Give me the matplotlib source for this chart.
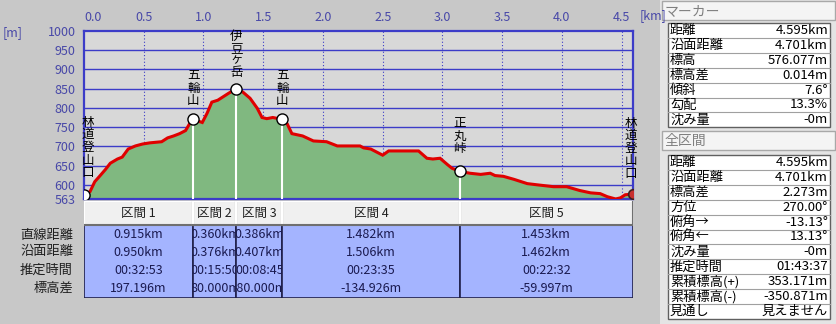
import numpy as np
import matplotlib
matplotlib.use('Agg')
import matplotlib.pyplot as plt
from matplotlib.patches import Rectangle
from matplotlib.transforms import Bbox, TransformedBbox

plt.rcParams['font.family'] = ['Noto Sans CJK JP', 'DejaVu Sans']

# elevation profile (km, m)
dist = [0.0, 0.05, 0.09, 0.13, 0.18, 0.22, 0.28, 0.32, 0.37, 0.43, 0.49, 0.55, 0.65, 0.70,
        0.75, 0.80, 0.85, 0.89, 0.915, 0.99, 1.03, 1.07, 1.12, 1.16, 1.21, 1.275, 1.33, 1.39,
        1.45, 1.49, 1.53, 1.58, 1.661, 1.70, 1.74, 1.83, 1.92, 2.03, 2.12, 2.31, 2.34, 2.40,
        2.45, 2.50, 2.55, 2.80, 2.87, 2.92, 2.98, 3.04, 3.08, 3.143, 3.23, 3.32, 3.40, 3.44,
        3.51, 3.60, 3.71, 3.79, 3.93, 4.04, 4.15, 4.24, 4.32, 4.38, 4.45, 4.49, 4.53, 4.595]
elev = [573, 582, 608, 622, 640, 656, 667, 672, 693, 701, 706, 709, 712, 722,
        727, 733, 741, 762, 770, 762, 786, 815, 820, 828, 838, 850, 841, 825,
        799, 775, 772, 775, 770, 759, 733, 727, 714, 712, 701, 701, 696, 693,
        685, 677, 688, 688, 669, 667, 669, 653, 643, 635, 630, 627, 630, 624,
        622, 614, 603, 600, 595, 595, 585, 579, 577, 569, 563, 566, 574, 576]

# waypoints
wp_names = ['林道登山口', '五輪山', '伊豆ヶ岳', '五輪山', '正丸峠', '林道登山口']
wp_km = [0.0, 0.915, 1.275, 1.661, 3.143, 4.595]
wp_elev = [573, 770, 850, 770, 635, 576]

# section table
sec_names = ['区間 1', '区間 2', '区間 3', '区間 4', '区間 5']
row_names = ['直線距離', '沿面距離', '推定時間', '標高差']
sec_straight = ['0.915km', '0.360km', '0.386km', '1.482km', '1.453km']
sec_surface = ['0.950km', '0.376km', '0.407km', '1.506km', '1.462km']
sec_time = ['00:32:53', '00:15:50', '00:08:45', '00:23:35', '00:22:32']
sec_height = ['197.196m', '80.000m', '-80.000m', '-134.926m', '-59.997m']

# side panels
marker_keys = ['距離', '沿面距離', '標高', '標高差', '傾斜', '勾配', '沈み量']
marker_vals = ['4.595km', '4.701km', '576.077m', '0.014m', '7.6°', '13.3%', '-0m']
total_keys = ['距離', '沿面距離', '標高差', '方位', '俯角→', '俯角←', '沈み量', '推定時間',
              '累積標高(+)', '累積標高(-)', '見通し']
total_vals = ['4.595km', '4.701km', '2.273m', '270.00°', '-13.13°', '13.13°', '-0m',
              '01:43:37', '353.171m', '-350.871m', '見えません']

xticks = [0.0, 0.5, 1.0, 1.5, 2.0, 2.5, 3.0, 3.5, 4.0, 4.5]
yticks = [563, 600, 650, 700, 750, 800, 850, 900, 950, 1000]

W, H = 836, 324
fig = plt.figure(figsize=(W / 100, H / 100), dpi=100, facecolor='#C8C8C8')

def px_axes(x0, y0, x1, y1):
    return fig.add_axes([x0 / W, 1 - y1 / H, (x1 - x0) / W, (y1 - y0) / H])

blue = '#3C3CC8'
tickc = '#4848A8'

# ---- profile
ax = px_axes(84, 31, 633, 199)
ax.set_facecolor('#D8D8D8')
ax.set_xlim(0, 4.595)
ax.set_ylim(563, 1000)
for y in yticks[1:-1]:
    ax.axhline(y, color=blue, lw=1.0, zorder=1)
for x in xticks[1:]:
    ax.axvline(x, color=blue, lw=0.8, ls=(0, (1, 2)), zorder=1)
ax.fill_between(dist, elev, 563, color='#80B880', zorder=2, lw=0)
ax.plot(dist, elev, color='#E00000', lw=2.2, zorder=3, solid_joinstyle='miter')
ax.vlines(wp_km[1:-1], 563, wp_elev[1:-1], color='white', lw=1.5, zorder=4)
ax.plot(wp_km[:-1], wp_elev[:-1], 'o', ms=8, mfc='white', mec='black', mew=1.0, zorder=5)
ax.plot(wp_km[-1:], wp_elev[-1:], 'o', ms=7, mfc='#C83030', mec='#402020', mew=1.2, zorder=5)
for spn in ax.spines.values():
    spn.set_color(blue)
    spn.set_linewidth(1.6)

ax.xaxis.tick_top()
ax.set_xticks(xticks)
ax.set_xticklabels(['%.1f' % v for v in xticks])
ax.set_yticks(yticks)
ax.set_yticklabels([str(v) for v in yticks])
ax.tick_params(length=0, colors=tickc, labelsize=9, pad=6)
ax.tick_params(axis='x', pad=5)
ax.get_xticklabels()[0].set_horizontalalignment('left')
fig.text(640 / W, 1 - 16 / H, '[km]', color=tickc, fontsize=9, va='center', ha='left')
fig.text(3 / W, 1 - 33 / H, '[m]', color=tickc, fontsize=9, va='center', ha='left')

# vertical waypoint names, stacked one character per line
lbl_dx = [4, 0, 0, 0, 0, -2]
lbl_dy = [16, 12, 10, 12, 16, 14]
for name, xk, ye, dx, dy in zip(wp_names, wp_km, wp_elev, lbl_dx, lbl_dy):
    off = dy
    for ch in reversed(name):
        step = 10.5 if ch == 'ヶ' else 12.6
        ax.annotate(ch, (xk, ye), xytext=(dx, off), textcoords='offset pixels',
                    ha='center', va='bottom', fontsize=9, color='black',
                    annotation_clip=False, zorder=6)
        off += step

# ---- section table
tax = px_axes(84, 201, 633, 298)
tax.set_xlim(0, 4.595)
tax.set_ylim(97, 0)
tax.axis('off')
rows = [sec_straight, sec_surface, sec_time, sec_height]
row_y = [34, 51, 69, 87]
for i, name in enumerate(sec_names):
    x0, x1 = wp_km[i], wp_km[i + 1]
    tax.add_patch(Rectangle((x0, 0), x1 - x0, 24, fc='#F0F0F0', ec='none'))
    tax.plot([x0, x0, x1], [24, 0, 0], color='white', lw=1.5)
    tax.plot([x0, x1, x1], [24, 24, 0], color='#707070', lw=1.5)
    tax.add_patch(Rectangle((x0, 24), x1 - x0, 73, fc='#A4B4FF', ec='#20204A', lw=1.2))
    clip = TransformedBbox(Bbox([[x0, 0], [x1, 97]]), tax.transData)
    t = tax.text((x0 + x1) / 2, 12, name, ha='center', va='center', fontsize=9, color='#202020')
    t.set_clip_box(clip)
    t.set_clip_on(True)
    for vals, yy in zip(rows, row_y):
        t = tax.text((x0 + x1) / 2, yy, vals[i], ha='center', va='center', fontsize=9,
                     color='#1A1A50')
        t.set_clip_box(clip)
        t.set_clip_on(True)
for name, yy in zip(row_names, [235, 252, 270, 288]):
    fig.text(73 / W, 1 - yy / H, name, ha='right', va='center', fontsize=9.5, color='#202020')

# ---- right panel (pixel coordinates)
pax = px_axes(660, 0, 836, 324)
pax.set_xlim(660, 836)
pax.set_ylim(324, 0)
pax.axis('off')
pax.add_patch(Rectangle((660, 0), 176, 324, fc='#E4E4E4', ec='none'))

def side_box(title, top, keys, vals, ttop):
    pax.add_patch(Rectangle((662, ttop), 173, 19, fc='#F4F4F4', ec='#A8A8A8', lw=1))
    pax.text(665, ttop + 10, title, ha='left', va='center', fontsize=10, color='#808080')
    rh = 14.9
    bottom = top + rh * len(keys)
    pax.add_patch(Rectangle((668, top), 162, bottom - top, fc='white', ec='#606060', lw=1))
    for k, (key, val) in enumerate(zip(keys, vals)):
        y = top + rh * (k + 0.5)
        if k:
            pax.plot([668, 830], [top + rh * k] * 2, color='#A0A0A0', lw=0.8)
        pax.text(670, y, key, ha='left', va='center', fontsize=9.5, color='black')
        pax.text(828, y, val, ha='right', va='center', fontsize=9.5, color='black')

side_box('マーカー', 23, marker_keys, marker_vals, 1)
side_box('全区間', 155, total_keys, total_vals, 131)

fig.savefig('out.png', dpi=100, facecolor=fig.get_facecolor())
